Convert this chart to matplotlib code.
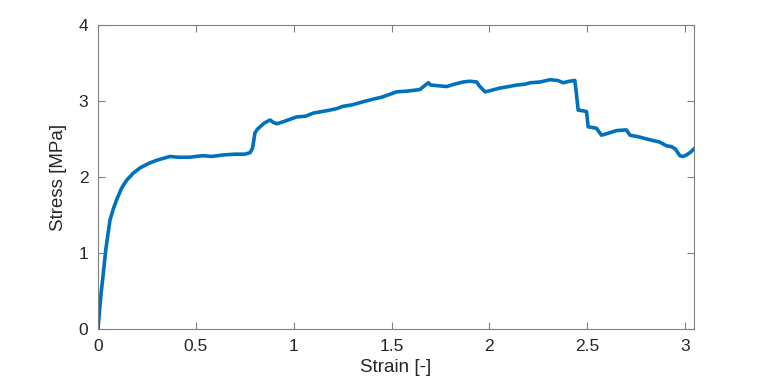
import matplotlib.pyplot as plt

plt.rcParams['font.family'] = ['Liberation Sans', 'DejaVu Sans']

# strain / stress points
strain = [0.0, 0.008, 0.016, 0.027, 0.04, 0.061, 0.078, 0.095, 0.12, 0.147,
          0.18, 0.215, 0.26, 0.30, 0.34, 0.368, 0.41, 0.47, 0.50, 0.537,
          0.58, 0.64, 0.70, 0.75, 0.777, 0.79, 0.802, 0.815, 0.828, 0.85,
          0.879, 0.895, 0.913, 0.95, 1.015, 1.06, 1.10, 1.185, 1.22, 1.252,
          1.30, 1.355, 1.40, 1.45, 1.526, 1.58, 1.645, 1.688, 1.70, 1.74,
          1.782, 1.82, 1.866, 1.90, 1.935, 1.952, 1.978, 2.01, 2.054, 2.10,
          2.14, 2.18, 2.21, 2.26, 2.31, 2.35, 2.377, 2.41, 2.437, 2.445,
          2.454, 2.48, 2.497, 2.505, 2.53, 2.548, 2.573, 2.60, 2.65, 2.70,
          2.719, 2.76, 2.82, 2.87, 2.906, 2.93, 2.95, 2.974, 2.99, 3.008,
          3.03, 3.05]
stress = [0.0, 0.25, 0.48, 0.73, 1.05, 1.43, 1.58, 1.70, 1.85, 1.96,
          2.05, 2.12, 2.18, 2.22, 2.25, 2.27, 2.26, 2.26, 2.27, 2.28,
          2.27, 2.29, 2.30, 2.30, 2.32, 2.38, 2.58, 2.63, 2.66, 2.71,
          2.75, 2.72, 2.70, 2.73, 2.79, 2.80, 2.84, 2.88, 2.90, 2.93,
          2.95, 2.99, 3.02, 3.05, 3.12, 3.13, 3.15, 3.24, 3.21, 3.20,
          3.19, 3.22, 3.25, 3.26, 3.25, 3.19, 3.12, 3.14, 3.17, 3.19,
          3.21, 3.22, 3.24, 3.25, 3.28, 3.27, 3.24, 3.26, 3.27, 3.10,
          2.88, 2.87, 2.86, 2.66, 2.65, 2.64, 2.55, 2.57, 2.61, 2.62,
          2.55, 2.53, 2.49, 2.46, 2.41, 2.40, 2.37, 2.28, 2.27, 2.29,
          2.33, 2.38]

xticks = [0, 0.5, 1, 1.5, 2, 2.5, 3]
xtick_labels = ['0', '0.5', '1', '1.5', '2', '2.5', '3']
yticks = [0, 1, 2, 3, 4]

fig = plt.figure(figsize=(7.67, 3.91), dpi=100)
ax = fig.add_axes([0.1278, 0.1586, 0.7770, 0.7775])

ax.plot(strain, stress, color='#0072BD', linewidth=2.6)

ax.set_xlim(0, 3.046)
ax.set_ylim(0, 4)
ax.set_xticks(xticks)
ax.set_xticklabels(xtick_labels)
ax.set_yticks(yticks)

grey = '#262626'
for side in ax.spines.values():
    side.set_color('#808080')
    side.set_linewidth(0.8)
ax.tick_params(direction='in', length=5, width=0.8, color='#808080',
               labelsize=12.5, labelcolor=grey, top=True, right=True, pad=7)

ax.set_xlabel('Strain [-]', fontsize=13.5, color=grey, labelpad=4)
ax.set_ylabel('Stress [MPa]', fontsize=13.5, color=grey, labelpad=8)

fig.savefig('out.png', dpi=100)
